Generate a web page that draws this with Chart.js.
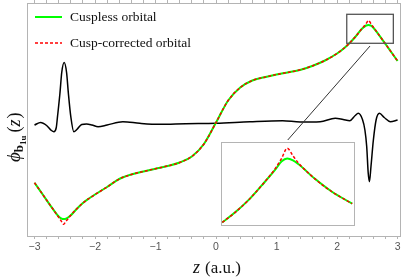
<!DOCTYPE html>
<html>
<head>
<meta charset="utf-8">
<script src="https://cdn.jsdelivr.net/npm/chart.js@4/dist/chart.umd.min.js"></script>
<style>
  body { margin: 0; background: #fff; }
  #wrap { position: relative; width: 407px; height: 280px; }
  #inset { position: absolute; left: 221px; top: 142px; width: 132px; height: 82px;
           border: 1px solid #b4b4b4; background: #fff; }
</style>
</head>
<body>
<div id="wrap">
  <canvas id="chart-orbital" width="407" height="280"></canvas>
  <div id="inset"><canvas id="chart-inset" width="132" height="82"></canvas></div>
</div>
<script>
// ---- data ----
var zGrid = [-3.0, -2.9, -2.8, -2.7, -2.6, -2.56, -2.52, -2.48, -2.44, -2.4, -2.3, -2.2, -2.1, -2.0,
  -1.8, -1.6, -1.4, -1.2, -1.0, -0.8, -0.6, -0.4, -0.2, 0, 0.2, 0.4, 0.6, 0.8, 1.0, 1.2, 1.4, 1.6,
  1.8, 2.0, 2.1, 2.2, 2.3, 2.4, 2.44, 2.48, 2.52, 2.56, 2.6, 2.7, 2.8, 2.9, 3.0];

var cusplessVals = [-0.602, -0.689, -0.776, -0.862, -0.94, -0.958, -0.966, -0.962, -0.948, -0.928,
  -0.862, -0.805, -0.76, -0.72, -0.645, -0.565, -0.52, -0.49, -0.462, -0.435, -0.40, -0.34, -0.215,
  0, 0.22, 0.35, 0.42, 0.452, 0.48, 0.502, 0.528, 0.568, 0.62, 0.69, 0.735, 0.79, 0.855, 0.93,
  0.952, 0.97, 0.976, 0.968, 0.948, 0.869, 0.785, 0.70, 0.615];

var correctedVals = [-0.602, -0.689, -0.776, -0.862, -0.949, -0.984, -1.018, -0.988, -0.958, -0.928,
  -0.862, -0.805, -0.76, -0.72, -0.645, -0.565, -0.52, -0.49, -0.462, -0.435, -0.40, -0.34, -0.215,
  0, 0.22, 0.35, 0.42, 0.452, 0.48, 0.502, 0.528, 0.568, 0.62, 0.69, 0.735, 0.79, 0.855, 0.93,
  0.958, 0.99, 1.02, 0.987, 0.953, 0.869, 0.785, 0.70, 0.615];

// black curve (no legend entry)
var blackZ = [-3.0, -2.9, -2.8, -2.72, -2.68, -2.64, -2.62, -2.58, -2.55, -2.51, -2.47, -2.44, -2.40,
  -2.35, -2.30, -2.22, -2.14, -2.05, -1.95, -1.8, -1.54, -1.26, -0.93, -0.5, 0, 0.56, 1.1, 1.39,
  1.72, 1.97, 2.1, 2.21, 2.3, 2.35, 2.42, 2.46, 2.49, 2.515, 2.535, 2.56, 2.6, 2.645, 2.70, 2.78,
  2.88, 3.0];
var blackVals = [-0.025, 0.0, -0.03, -0.08, -0.092, -0.05, 0.058, 0.29, 0.50, 0.60, 0.50, 0.29, 0.058,
  -0.092, -0.07, -0.02, -0.015, -0.025, -0.042, -0.025, 0.008, -0.008, -0.018, -0.012, -0.008, 0.008,
  0.018, 0.005, 0.008, 0.042, 0.03, 0.018, 0.07, 0.092, 0.03, -0.075, -0.242, -0.508, -0.592, -0.442,
  -0.175, 0.025, 0.092, 0.05, 0.008, 0.025];

// inset (zoom on the right cusp)
var insetZ = [2.226, 2.283, 2.343, 2.404, 2.464, 2.494, 2.519, 2.545, 2.569, 2.644, 2.719, 2.812];
var insetCuspless = [0.701, 0.743, 0.795, 0.859, 0.925, 0.962, 0.974, 0.966, 0.950, 0.887, 0.833, 0.781];
var insetCorrected = [0.701, 0.743, 0.795, 0.859, 0.929, 0.975, 1.018, 0.985, 0.955, 0.887, 0.833, 0.781];

var xTickLabels = [-3, -2, -1, 0, 1, 2, 3];
var legendLabels = ["Cuspless orbital", "Cusp-corrected orbital"];

// zoom box + connector, in data units
var zoomBox = { z0: 2.16, z1: 2.93, v0: 0.792, v1: 1.082 };
var connector = { z0: 2.545, v0: 0.765, z1: 1.185, v1: -0.175 };

const GREEN = "#00ff00";
const RED = "#ff0000";
const FRAME = "#b4b4b4";

const toPts = (xs, ys) => xs.map((x, i) => ({ x: x, y: ys[i] }));

const minorTicks = () => {
  var t = [];
  for (var i = -15; i <= 15; i++) t.push({ value: i / 5 });
  return t;
};

// legend, titles, zoom box
const decorations = {
  id: "decorations",
  afterDraw(chart) {
    const c = chart.ctx;
    const xs = chart.scales.x, ys = chart.scales.y;
    c.save();

    // zoom box
    c.strokeStyle = "#555";
    c.lineWidth = 1.3;
    var bx0 = xs.getPixelForValue(zoomBox.z0), bx1 = xs.getPixelForValue(zoomBox.z1);
    var by0 = ys.getPixelForValue(zoomBox.v1), by1 = ys.getPixelForValue(zoomBox.v0);
    c.strokeRect(bx0, by0, bx1 - bx0, by1 - by0);

    // connector line
    c.strokeStyle = "#333";
    c.lineWidth = 1;
    c.beginPath();
    c.moveTo(xs.getPixelForValue(connector.z0), ys.getPixelForValue(connector.v0));
    c.lineTo(xs.getPixelForValue(connector.z1), ys.getPixelForValue(connector.v1));
    c.stroke();

    // legend
    c.lineWidth = 2;
    c.strokeStyle = GREEN;
    c.beginPath(); c.moveTo(35, 17); c.lineTo(62, 17); c.stroke();
    c.lineWidth = 1.5;
    c.strokeStyle = RED;
    c.setLineDash([3, 2]);
    c.beginPath(); c.moveTo(35, 43); c.lineTo(62, 43); c.stroke();
    c.setLineDash([]);
    c.fillStyle = "#111";
    c.font = "13.5px 'Liberation Serif'";
    c.textBaseline = "middle";
    c.fillText(legendLabels[0], 70, 17);
    c.fillText(legendLabels[1], 70, 43);

    // x title: z (a.u.)
    c.textBaseline = "alphabetic";
    c.font = "italic 18px 'Liberation Serif'";
    c.fillText("z", 193, 273);
    c.font = "17px 'Liberation Serif'";
    c.fillText("(a.u.)", 205, 273);

    // y title: phi_{b_{1u}}(z), rotated
    c.translate(20, 162);
    c.rotate(-Math.PI / 2);
    var x = 0;
    c.font = "italic 19px 'Liberation Serif'";
    c.fillText("\u03D5", x, 0); x += c.measureText("\u03D5").width;
    c.font = "bold 13px 'Liberation Serif'";
    c.fillText("b", x, 3); x += c.measureText("b").width;
    c.font = "bold 9px 'Liberation Serif'";
    c.fillText("1u", x, 6); x += c.measureText("1u").width + 3;
    c.font = "18px 'Liberation Serif'";
    c.fillText("(", x, 0); x += c.measureText("(").width;
    c.font = "italic 18px 'Liberation Serif'";
    c.fillText("z", x, 0); x += c.measureText("z").width + 1;
    c.font = "18px 'Liberation Serif'";
    c.fillText(")", x, 0);
    c.restore();
  }
};

var ctx = document.getElementById("chart-orbital").getContext("2d");
var chartOrbital = new Chart(ctx, {
  type: "line",
  data: {
    datasets: [
      {
        label: legendLabels[1],
        data: toPts(zGrid, correctedVals),
        borderColor: RED,
        borderWidth: 1.5,
        borderDash: [3, 2],
        pointRadius: 0,
        cubicInterpolationMode: "monotone",
      },
      {
        label: legendLabels[0],
        data: toPts(zGrid, cusplessVals),
        borderColor: GREEN,
        borderWidth: 2,
        pointRadius: 0,
        cubicInterpolationMode: "monotone",
      },
      {
        label: "black",
        data: toPts(blackZ, blackVals),
        borderColor: "#000",
        borderWidth: 1.5,
        pointRadius: 0,
        cubicInterpolationMode: "monotone",
      },
    ],
  },
  options: {
    responsive: false,
    animation: false,
    layout: { padding: 0 },
    plugins: { legend: { display: false }, tooltip: { enabled: false } },
    scales: {
      x: {
        type: "linear",
        position: "bottom",
        min: -3.124,
        max: 3.04,
        afterBuildTicks: (s) => { s.ticks = minorTicks(); },
        afterFit: (s) => { s.height = 44; },
        ticks: {
          autoSkip: false,
          maxRotation: 0,
          padding: 2,
          color: "#555",
          font: { family: "'Liberation Sans'", size: 10.5 },
          callback: (v) => {
            var r = Math.round(v);
            if (Math.abs(v - r) > 1e-6 || xTickLabels.indexOf(r) < 0) return "";
            return r < 0 ? "\u2212" + Math.abs(r) : String(r);
          },
        },
        grid: { drawOnChartArea: false, tickLength: 3, color: FRAME },
        border: { color: FRAME },
      },
      xTop: {
        type: "linear",
        position: "top",
        min: -3.124,
        max: 3.04,
        afterBuildTicks: (s) => { s.ticks = minorTicks(); },
        afterFit: (s) => { s.height = 3; },
        ticks: { display: false },
        grid: { drawOnChartArea: false, tickLength: 3, color: FRAME },
        border: { color: FRAME },
      },
      y: {
        position: "left",
        min: -1.135,
        max: 1.195,
        afterFit: (s) => { s.width = 27; },
        ticks: { display: false },
        grid: { display: false },
        border: { color: FRAME },
      },
      yRight: {
        position: "right",
        min: -1.135,
        max: 1.195,
        afterFit: (s) => { s.width = 7; },
        ticks: { display: false },
        grid: { display: false },
        border: { color: FRAME },
      },
    },
  },
  plugins: [decorations],
});

// ---- inset ----
var ctxInset = document.getElementById("chart-inset").getContext("2d");
var chartInset = new Chart(ctxInset, {
  type: "line",
  data: {
    datasets: [
      {
        data: toPts(insetZ, insetCorrected),
        borderColor: RED,
        borderWidth: 1.5,
        borderDash: [3, 2],
        pointRadius: 0,
        cubicInterpolationMode: "monotone",
      },
      {
        data: toPts(insetZ, insetCuspless),
        borderColor: GREEN,
        borderWidth: 2,
        pointRadius: 0,
        cubicInterpolationMode: "monotone",
      },
    ],
  },
  options: {
    responsive: false,
    animation: false,
    layout: { padding: 0 },
    plugins: { legend: { display: false }, tooltip: { enabled: false } },
    scales: {
      x: { type: "linear", min: 2.225, max: 2.82, display: false },
      y: { min: 0.69, max: 1.04, display: false },
    },
  },
});
</script>
</body>
</html>
